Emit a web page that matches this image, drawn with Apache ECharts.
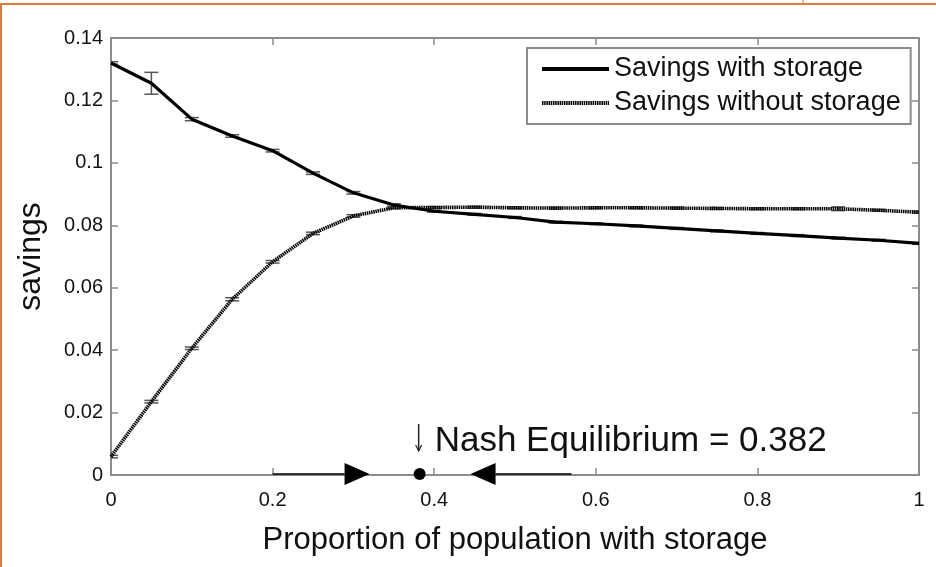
<!DOCTYPE html>
<html>
<head>
<meta charset="utf-8">
<script src="https://cdn.jsdelivr.net/npm/echarts@6/dist/echarts.min.js"></script>
<style>html,body{margin:0;padding:0;background:#fff}#c{width:936px;height:567px}</style>
</head>
<body>
<div id="c"></div>
<script>
// ---- data ----
var xValues = [0,0.05,0.1,0.15,0.2,0.25,0.3,0.35,0.4,0.45,0.5,0.55,0.6,0.65,0.7,0.75,0.8,0.85,0.9,0.95,1];
var savingsWithStorage = [0.132,0.1255,0.114,0.1086,0.1039,0.0967,0.0904,0.0865,0.0845,0.0835,0.0825,0.081,0.0805,0.0798,0.079,0.0782,0.0774,0.0767,0.0759,0.0752,0.0742];
var errWithStorage = [0.0004,0.0035,0.0005,0.0004,0.0004,0.0004,0.0004,0.0004,0.0003,0.0003,0.0003,0.0003,0.0003,0.0003,0.0003,0.0003,0.0003,0.0003,0.0003,0.0003,0.0003];
var savingsWithoutStorage = [0.0059,0.0235,0.0406,0.0563,0.0683,0.0774,0.083,0.0856,0.0857,0.0858,0.0856,0.0855,0.0856,0.0856,0.0855,0.0854,0.0853,0.0853,0.0853,0.0848,0.0842];
var errWithoutStorage = [0.0004,0.0004,0.0004,0.0005,0.0004,0.0004,0.0004,0.0003,0.0003,0.0003,0.0003,0.0003,0.0003,0.0003,0.0003,0.0003,0.0003,0.0003,0.0006,0.0003,0.0003];
var seriesNames = ['Savings with storage','Savings without storage'];
var nashValue = 0.382;
var nashLabel = 'Nash Equilibrium = 0.382';
var arrowRight = [0.2, 0.32];   // arrow pointing right towards equilibrium
var arrowLeft = [0.57, 0.445];  // arrow pointing left towards equilibrium
var xTitle = 'Proportion of population with storage';
var yTitle = 'savings';

function pairs(xs, ys){ return xs.map(function(x,i){ return [x, ys[i]]; }); }
function errData(xs, ys, es){ return xs.map(function(x,i){ return [x, ys[i]-es[i], ys[i]+es[i]]; }); }

var FONT = '"Liberation Sans", Arial, Helvetica, sans-serif';
var axisGray = '#8c8c8c';

function errRender(params, api){
  var x = api.value(0), lo = api.value(1), hi = api.value(2);
  var p1 = api.coord([x, lo]), p2 = api.coord([x, hi]);
  var w = 7;
  var st = {stroke:'#555', lineWidth:1.5};
  return {type:'group', children:[
    {type:'line', shape:{x1:p1[0],y1:p1[1],x2:p2[0],y2:p2[1]}, style:st},
    {type:'line', shape:{x1:p1[0]-w,y1:p1[1],x2:p1[0]+w,y2:p1[1]}, style:st},
    {type:'line', shape:{x1:p2[0]-w,y1:p2[1],x2:p2[0]+w,y2:p2[1]}, style:st}
  ]};
}

function annRender(params, api){
  var a = api.coord([nashValue, 0]);
  var r1 = api.coord([arrowRight[0], 0]), r2 = api.coord([arrowRight[1], 0]);
  var l1 = api.coord([arrowLeft[0], 0]), l2 = api.coord([arrowLeft[1], 0]);
  var y = a[1] - 1;
  var tw = 25, th = 11;
  return {type:'group', children:[
    {type:'line', shape:{x1:r1[0],y1:y,x2:r2[0]-tw,y2:y}, style:{stroke:'#000',lineWidth:1.5}},
    {type:'polygon', shape:{points:[[r2[0]-tw,y-th],[r2[0],y],[r2[0]-tw,y+th]]}, style:{fill:'#000'}},
    {type:'line', shape:{x1:l1[0],y1:y,x2:l2[0]+tw,y2:y}, style:{stroke:'#000',lineWidth:1.5}},
    {type:'polygon', shape:{points:[[l2[0]+tw,y-th],[l2[0],y],[l2[0]+tw,y+th]]}, style:{fill:'#000'}},
    {type:'circle', shape:{cx:a[0], cy:y, r:6}, style:{fill:'#000'}},
    {type:'line', shape:{x1:a[0]-1,y1:y-50,x2:a[0]-1,y2:y-23}, style:{stroke:'#222',lineWidth:1.5}},
    {type:'polyline', shape:{points:[[a[0]-4,y-29],[a[0]-1,y-23],[a[0]+2,y-29]]}, style:{stroke:'#222',lineWidth:1.2,fill:null}},
    {type:'text', x:a[0]+15, y:y-33, style:{text:nashLabel, font:'35px '+FONT, fill:'#111', textVerticalAlign:'middle', textAlign:'left'}}
  ]};
}

var axisLineStyle = {show:true, onZero:false, lineStyle:{color:axisGray, width:2}};
var axisTickStyle = {show:true, inside:true, length:7, lineStyle:{color:axisGray, width:1.5}};

var chart = echarts.init(document.getElementById('c'), null, {renderer:'canvas'});
chart.setOption({
  animation:false,
  backgroundColor:'#fff',
  textStyle:{fontFamily:FONT},
  grid:{left:111, right:17, top:38, bottom:92, show:false},
  graphic:[
    {type:'line', shape:{x1:0,y1:4,x2:936,y2:4}, style:{stroke:'#e07a3c', lineWidth:2}, z:100},
    {type:'line', shape:{x1:1,y1:4,x2:1,y2:567}, style:{stroke:'#e07a3c', lineWidth:2}, z:100},
    {type:'line', shape:{x1:803,y1:0,x2:803,y2:4}, style:{stroke:'#e07a3c', lineWidth:1}, z:100}
  ],
  legend:{
    data:seriesNames, orient:'vertical', left:527, top:48,
    backgroundColor:'#fff', borderColor:axisGray, borderWidth:2, borderRadius:0,
    padding:[7,10,7,13], itemGap:6, itemWidth:67, itemHeight:14,
    itemStyle:{color:'transparent', borderWidth:0, opacity:0},
    lineStyle:{width:4},
    textStyle:{fontSize:27, color:'#111', fontFamily:FONT, lineHeight:28},
    selectedMode:false
  },
  xAxis:[
    {type:'value', min:0, max:1, interval:0.2, position:'bottom',
     name:xTitle, nameLocation:'middle', nameGap:50, nameTextStyle:{fontSize:31, color:'#111'},
     axisLine:axisLineStyle, axisTick:axisTickStyle,
     axisLabel:{fontSize:20, color:'#111', margin:15, formatter:function(v){return v===0?'0':(v===1?'1':String(+v.toFixed(1)));}},
     splitLine:{show:false}},
    {type:'value', min:0, max:1, interval:0.2, position:'top',
     axisLine:axisLineStyle, axisTick:axisTickStyle,
     axisLabel:{show:false}, splitLine:{show:false}}
  ],
  yAxis:[
    {type:'value', min:0, max:0.14, interval:0.02, position:'left',
     name:yTitle, nameLocation:'middle', nameGap:64, nameTextStyle:{fontSize:32, color:'#111'},
     axisLine:axisLineStyle, axisTick:axisTickStyle,
     axisLabel:{fontSize:20, color:'#111', margin:8, formatter:function(v){return v===0?'0':String(+v.toFixed(2));}},
     splitLine:{show:false}},
    {type:'value', min:0, max:0.14, interval:0.02, position:'right',
     axisLine:axisLineStyle, axisTick:axisTickStyle,
     axisLabel:{show:false}, splitLine:{show:false}}
  ],
  series:[
    {name:seriesNames[0], type:'line', data:pairs(xValues, savingsWithStorage), symbol:'none',
     lineStyle:{color:'#000', width:3.2}, itemStyle:{color:'#000'}, z:5},
    {name:seriesNames[1], type:'line', data:pairs(xValues, savingsWithoutStorage), symbol:'none',
     lineStyle:{color:'#000', width:3.6, type:[1.5,0.7]}, itemStyle:{color:'#000'}, z:5},
    {type:'custom', data:errData(xValues, savingsWithStorage, errWithStorage), renderItem:errRender, z:4, silent:true, clip:true},
    {type:'custom', data:errData(xValues, savingsWithoutStorage, errWithoutStorage), renderItem:errRender, z:4, silent:true, clip:true},
    {type:'custom', data:[[nashValue,0]], renderItem:annRender, z:10, silent:true, clip:false}
  ]
});
</script>
</body>
</html>
